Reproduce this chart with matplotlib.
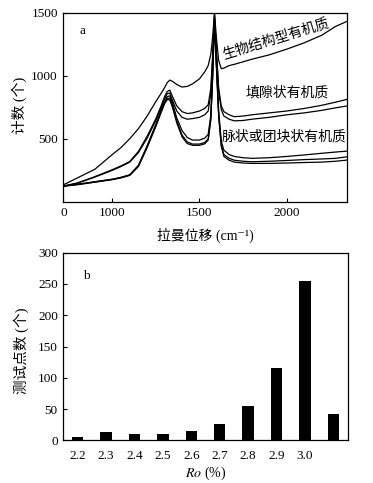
import matplotlib
matplotlib.use('Agg')
import matplotlib.pyplot as plt

plt.rcParams['font.family'] = ['Liberation Serif', 'Noto Sans CJK SC', 'DejaVu Serif']
plt.rcParams['mathtext.fontset'] = 'stix'

# --- panel a: Raman spectra (counts vs Raman shift) ---
shift = [720, 800, 900, 1000, 1050, 1100, 1150, 1200, 1250, 1280, 1300, 1315,
         1330, 1345, 1370, 1400, 1430, 1460, 1500, 1530, 1550, 1565, 1575,
         1586, 1597, 1610, 1625, 1640, 1670, 1700, 1750, 1800, 1900, 2000,
         2100, 2200, 2280, 2345]

bio = [135, 190, 258, 375, 430, 500, 580, 680, 795, 860, 905, 945,
       965, 955, 930, 910, 915, 935, 975, 1030, 1080, 1170, 1300,
       1500, 1300, 1120, 1055, 1060, 1080, 1090, 1110, 1130, 1165, 1210,
       1260, 1320, 1390, 1430]
fill_1 = [125, 150, 200, 255, 285, 320, 400, 520, 660, 760, 835, 875,
          885, 835, 760, 715, 700, 705, 720, 740, 770, 900, 1150,
          1485, 1200, 900, 760, 715, 690, 675, 680, 690, 705, 720,
          740, 765, 790, 812]
fill_2 = [125, 148, 196, 250, 280, 315, 390, 505, 645, 745, 815, 858,
          862, 805, 720, 670, 655, 660, 670, 690, 720, 860, 1120,
          1465, 1180, 880, 730, 680, 655, 642, 645, 655, 670, 690,
          705, 725, 745, 760]
vein_1 = [125, 140, 160, 180, 195, 215, 290, 445, 615, 725, 795, 835,
          840, 785, 665, 565, 510, 490, 490, 505, 535, 690, 1000,
          1450, 1100, 720, 480, 410, 375, 360, 350, 345, 350, 360,
          372, 385, 395, 402]
vein_2 = [125, 138, 158, 178, 192, 212, 285, 438, 605, 715, 785, 820,
          822, 765, 640, 530, 475, 458, 458, 470, 500, 660, 980,
          1440, 1080, 690, 450, 375, 345, 330, 322, 318, 322, 328,
          335, 340, 345, 357]
vein_3 = [125, 136, 156, 176, 190, 210, 280, 430, 598, 708, 778, 810,
          808, 750, 625, 515, 462, 448, 448, 460, 490, 650, 970,
          1430, 1070, 680, 440, 360, 330, 315, 308, 305, 305, 308,
          312, 315, 322, 331]

shift_ticks = [720, 1000, 1500, 2000]
shift_ticklabels = ['0', '1000', '1500', '2000']
count_ticks = [500, 1000, 1500]

# --- panel b: histogram of Ro ---
ro_labels = ['2.2', '2.3', '2.4', '2.5', '2.6', '2.7', '2.8', '2.9', '3.0', '']
ro_counts = [5, 14, 10, 11, 15, 27, 55, 116, 254, 42]

fig = plt.figure(figsize=(3.73, 4.83), dpi=100)
ax1 = fig.add_axes([0.170, 0.582, 0.760, 0.392])
ax2 = fig.add_axes([0.170, 0.088, 0.762, 0.389])

for curve in [bio, fill_1, fill_2, vein_1, vein_2, vein_3]:
    ax1.plot(shift, curve, color='black', lw=0.9)

ax1.set_xlim(720, 2345)
ax1.set_ylim(0, 1500)
ax1.set_xticks(shift_ticks)
ax1.set_xticklabels(shift_ticklabels)
ax1.set_yticks(count_ticks)
ax1.tick_params(direction='in', length=3, width=0.8, labelsize=9.5, pad=4)
ax1.set_xlabel('拉曼位移 (cm⁻¹)', fontsize=10)
ax1.set_ylabel('计数 (个)', fontsize=10.5)
ax1.xaxis.set_label_coords(0.5, -0.135)
ax1.yaxis.set_label_coords(-0.128, 0.51)
ax1.text(0.055, 0.905, 'a', transform=ax1.transAxes, fontsize=9.5, va='center')
ax1.text(0.75, 0.86, '生物结构型有机质', transform=ax1.transAxes, fontsize=10,
         ha='center', va='center', rotation=17)
ax1.text(0.79, 0.575, '填隙状有机质', transform=ax1.transAxes, fontsize=10,
         ha='center', va='center')
ax1.text(0.78, 0.342, '脉状或团块状有机质', transform=ax1.transAxes, fontsize=10,
         ha='center', va='center')

pos = list(range(len(ro_counts)))
ax2.bar(pos, ro_counts, width=0.4, color='black')
ax2.set_xlim(-0.5, len(ro_counts) - 0.5)
ax2.set_ylim(0, 300)
ax2.set_xticks(pos)
ax2.set_xticklabels(ro_labels)
ax2.set_yticks(range(0, 301, 50))
ax2.tick_params(axis='y', direction='in', length=3, width=0.8, labelsize=9.5, pad=4)
ax2.tick_params(axis='x', length=0, labelsize=9.5, pad=7)
ax2.set_ylabel('测试点数 (个)', fontsize=10.5)
ax2.set_xlabel(r'$\mathit{Ro}$ (%)', fontsize=10)
ax2.xaxis.set_label_coords(0.5, -0.13)
ax2.yaxis.set_label_coords(-0.12, 0.48)
ax2.text(0.07, 0.875, 'b', transform=ax2.transAxes, fontsize=9.5, va='center')

for ax in (ax1, ax2):
    for s in ax.spines.values():
        s.set_linewidth(0.9)

fig.savefig('out.png', dpi=100)
